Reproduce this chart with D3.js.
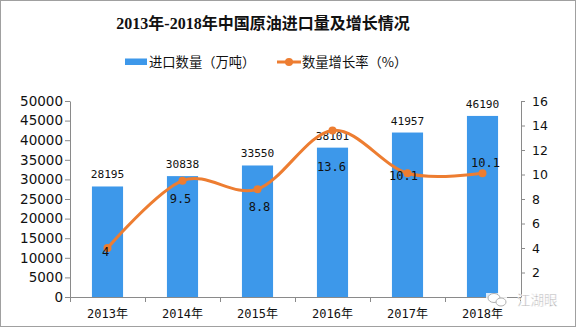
<!DOCTYPE html>
<html><head><meta charset="utf-8">
<script src="https://cdn.jsdelivr.net/npm/d3@7"></script>
<style>
html,body{margin:0;padding:0;background:#fff;}
svg{display:block;}
</style></head>
<body><svg id="c" width="576" height="327"></svg>
<script>
// ---- data ----
const years = ["2013年","2014年","2015年","2016年","2017年","2018年"];
const importVolume = [28195, 30838, 33550, 38101, 41957, 46190];
const growthRate = [4, 9.5, 8.8, 13.6, 10.1, 10.1];
const leftTicks = [0,5000,10000,15000,20000,25000,30000,35000,40000,45000,50000];
const rightTicks = [2,4,6,8,10,12,14,16];
const titleText = "2013年-2018年中国原油进口量及增长情况";
const legendBar = "进口数量（万吨）";
const legendLine = "数量增长率（%）";

// ---- layout ----
const svg = d3.select("#c");
const W = 576, H = 327;
const plot = {left:70, right:520, top:101, bottom:297};
const barColor = "#3d98ea", lineColor = "#ed7d31", axisColor = "#8a8a8a";
const monoFont = "'DejaVu Sans Mono','Noto Sans CJK SC',monospace";

svg.append("rect").attr("x",0.5).attr("y",0.5).attr("width",W-1).attr("height",H-1)
  .attr("fill","#fff").attr("stroke","#a0a0a0");

const x = d3.scaleBand().domain(years).range([plot.left, plot.right]).padding(0);
const yL = d3.scaleLinear().domain([0,50000]).range([plot.bottom, plot.top]);
const yR = d3.scaleLinear().domain([0,16]).range([plot.bottom, plot.top]);
const barW = x.bandwidth()*0.415;

// title
svg.append("text").attr("x",263).attr("y",29).attr("text-anchor","middle")
  .attr("font-family","'Liberation Serif','Noto Sans CJK SC',serif")
  .attr("font-weight","bold").attr("font-size",16).attr("fill","#111").text(titleText);

// legend
const lg = svg.append("g").attr("font-family","'Noto Sans CJK SC',sans-serif").attr("font-size",13.3).attr("fill","#111");
lg.append("rect").attr("x",125).attr("y",58.5).attr("width",22).attr("height",6.5).attr("fill",barColor);
lg.append("text").attr("x",149).attr("y",67).text(legendBar);
lg.append("line").attr("x1",277).attr("x2",301).attr("y1",62).attr("y2",62).attr("stroke",lineColor).attr("stroke-width",3);
lg.append("circle").attr("cx",289).attr("cy",62).attr("r",4).attr("fill",lineColor);
lg.append("text").attr("x",302).attr("y",67).text(legendLine);

// bars
svg.append("g").selectAll("rect").data(importVolume).join("rect")
  .attr("x",(d,i)=>x(years[i])+x.bandwidth()/2-barW/2)
  .attr("y",d=>yL(d)).attr("width",barW).attr("height",d=>plot.bottom-yL(d))
  .attr("fill",barColor);

// left axis
const axL = svg.append("g").attr("transform",`translate(${plot.left},0)`)
  .call(d3.axisLeft(yL).tickValues(leftTicks).tickSize(5).tickSizeOuter(0).tickPadding(2).tickFormat(d3.format("d")));
axL.selectAll("text").attr("font-family","'DejaVu Sans',sans-serif").attr("font-size",13.5).attr("fill","#111");
axL.selectAll("line,path").attr("stroke",axisColor);

// right axis
const axR = svg.append("g").attr("transform",`translate(${plot.right+1},0)`)
  .call(d3.axisRight(yR).tickValues(rightTicks).tickSize(4).tickSizeOuter(0).tickPadding(7));
axR.selectAll("text").attr("font-family","'DejaVu Sans',sans-serif").attr("font-size",12.5).attr("fill","#111");
axR.selectAll("line,path").attr("stroke",axisColor);

// bottom axis
const axB = svg.append("g");
axB.append("line").attr("x1",plot.left).attr("x2",plot.right+1).attr("y1",plot.bottom+0.5).attr("y2",plot.bottom+0.5).attr("stroke",axisColor);
const bounds = years.map(d=>x(d)).concat([x.range()[1]]);
axB.selectAll("line.t").data(bounds).join("line").attr("class","t")
  .attr("x1",d=>Math.round(d)+0.5).attr("x2",d=>Math.round(d)+0.5)
  .attr("y1",plot.bottom).attr("y2",plot.bottom+5).attr("stroke",axisColor);
axB.selectAll("text").data(years).join("text")
  .attr("x",d=>x(d)+x.bandwidth()/2).attr("y",318).attr("text-anchor","middle")
  .attr("font-family",monoFont).attr("font-size",12).attr("fill","#111").text(d=>d);

// bar labels
svg.append("g").selectAll("text").data(importVolume).join("text")
  .attr("x",(d,i)=>x(years[i])+x.bandwidth()/2).attr("y",d=>yL(d)-8)
  .attr("text-anchor","middle").attr("font-family",monoFont).attr("font-size",11.2).attr("fill","#111")
  .text(d=>d);

// line
const cx = i => x(years[i])+x.bandwidth()/2;
const line = d3.line().x((d,i)=>cx(i)).y(d=>yR(d)).curve(d3.curveCardinal.tension(0));
svg.append("path").datum(growthRate).attr("d",line).attr("fill","none")
  .attr("stroke",lineColor).attr("stroke-width",3);
svg.append("g").selectAll("circle").data(growthRate).join("circle")
  .attr("cx",(d,i)=>cx(i)).attr("cy",d=>yR(d)).attr("r",4).attr("fill",lineColor);

// line labels (placement offsets relative to point)
const labelDx = [-2, -2, 2, -1, -4, 3];
const labelDy = [8, 22, 22, 41, 7, -6];
svg.append("g").selectAll("text").data(growthRate).join("text")
  .attr("x",(d,i)=>cx(i)+labelDx[i]).attr("y",(d,i)=>yR(d)+labelDy[i])
  .attr("text-anchor","middle").attr("font-family",monoFont).attr("font-size",12).attr("fill","#111")
  .text(d=>d);

// corner mark
const cm = svg.append("g");
cm.append("rect").attr("x",486).attr("y",293).attr("width",21).attr("height",15).attr("fill","#fff").attr("opacity",0.8);
cm.append("ellipse").attr("cx",494).attr("cy",298).attr("rx",6).attr("ry",4.5).attr("fill","#fff").attr("stroke","#b0b0b0").attr("stroke-width",1);
cm.append("ellipse").attr("cx",501).attr("cy",302).attr("rx",5).attr("ry",4).attr("fill","#fff").attr("stroke","#b0b0b0").attr("stroke-width",1);
cm.append("text").attr("x",517).attr("y",305).attr("font-family","'Noto Sans CJK SC',sans-serif")
  .attr("font-size",13.5).attr("fill","#9a9a9a").attr("stroke","#fff").attr("stroke-width",0.5).text("江湖眼");
</script></body></html>
